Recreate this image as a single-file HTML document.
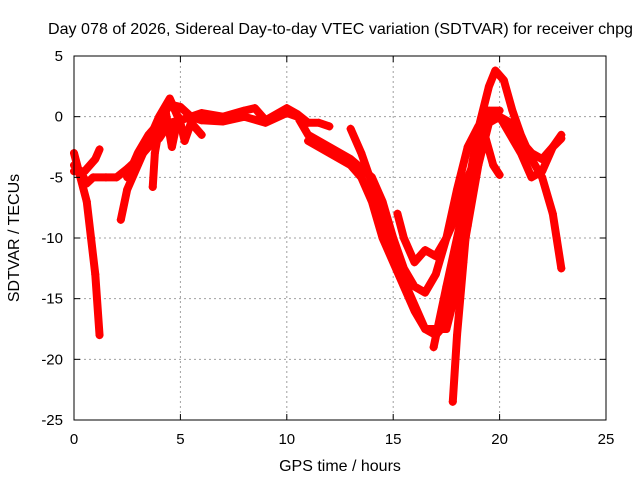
<!DOCTYPE html>
<html><head><meta charset="utf-8"><style>
body{margin:0;background:#fff}
svg{display:block;font-family:"Liberation Sans",sans-serif}
</style></head><body>
<svg id="c" width="640" height="480">
<rect width="640" height="480" fill="#fff"/>
<text x="48" y="34" font-size="16" textLength="585" lengthAdjust="spacingAndGlyphs">Day 078 of 2026, Sidereal Day-to-day VTEC variation (SDTVAR) for receiver chpg</text>
<text x="340" y="471" text-anchor="middle" font-size="16">GPS time / hours</text>
<text transform="translate(19,238) rotate(-90)" text-anchor="middle" font-size="16">SDTVAR / TECUs</text>
<g id="grid"></g><g id="marks"></g><g id="axes"></g>
</svg>
<script>
const xTicks=[0,5,10,15,20,25];
const yTicks=[5,0,-5,-10,-15,-20,-25];
const s1=[[0,-3],[0.3,-5],[0.6,-7],[0.8,-10],[1.0,-13],[1.2,-18]];
const s2=[[0,-4.5],[0.5,-4.5],[1.0,-3.5],[1.2,-2.7]];
const s3=[[0,-4],[0.3,-4.5],[0.6,-5.5],[0.9,-5],[1.5,-5],[2,-5],[2.5,-4.3],[3,-3.5],[3.5,-2.5],[4,-1.8],[4.5,-0.5],[5,-0.3],[5.5,0],[6,-0.3],[7,-0.4],[8,0],[9,-0.5],[10,0.3],[10.5,0],[11,-1.5],[12,-2.5],[13,-3.5],[14,-5],[14.5,-7],[15,-10],[15.5,-12.5],[16,-14],[16.5,-14.5],[17,-13],[17.5,-10],[18,-6],[18.5,-2.5],[19,-0.8],[19.5,0],[20,0],[20.5,-0.5],[21,-2],[21.5,-3],[22,-3.5],[22.5,-2.5],[22.9,-1.8]];
const s4=[[2.5,-5],[3,-3],[3.5,-1.5],[4,-0.5],[4.5,1],[5,0.8],[5.5,0],[6,0.3],[7,0],[8,0.5],[8.5,0.7],[9,-0.3],[10,0.7],[10.5,0.2],[11,-0.5],[11.5,-0.5],[12,-0.8]];
const s5=[[2.2,-8.5],[2.5,-6],[3,-4],[3.5,-2],[4,0],[4.5,1.5],[5,-0.5],[5.2,-2],[5.5,-0.5],[6,-1.5]];
const s6=[[3.7,-5.8],[3.8,-3],[4,-1],[4.3,0.5],[4.6,-2.5],[4.9,0]];
const s7=[[11,-2],[12,-3],[13,-4],[13.5,-5],[14,-7],[14.5,-10],[15,-12],[15.5,-14],[16,-16],[16.5,-17.5],[17,-18],[17.5,-17],[18,-12],[18.5,-6],[19,-1],[19.5,2.5],[19.8,3.8],[20.2,3],[20.6,0.5],[21,-1.5],[21.5,-3.5],[22,-5],[22.5,-8],[22.9,-12.5]];
const s8=[[13,-1],[13.5,-3],[14,-5.5],[14.5,-9],[15,-11.5],[15.5,-13.5],[16,-15.5],[16.5,-17.5],[17,-17.5],[17.5,-17.5],[18,-14],[18.5,-9],[19,-4],[19.5,-0.5],[20,0],[20.5,-1.5],[21,-3],[21.5,-5],[22,-4.5],[22.5,-2.5],[22.9,-1.5]];
const s9=[[15.2,-8],[15.5,-10],[16,-12],[16.5,-11],[17,-11.5],[17.5,-10],[18,-8],[18.5,-5],[19,-3],[19.3,-1.5],[19.7,-4],[20,-4.8]];
const s10=[[16.9,-19],[17.5,-14],[18,-10],[18.5,-6],[19,-2],[19.5,0.5],[20,0.5]];
const s11=[[17.8,-23.5],[18,-18],[18.3,-12],[18.5,-8]];
const series=[s1,s2,s3,s4,s5,s6,s7,s8,s9,s10,s11];
const X0=74,X1=606,Y0=56,Y1=420;
const xs=t=>X0+(t-0)/25*(X1-X0);
const ys=v=>Y0+(5-v)/30*(Y1-Y0);
const NS="http://www.w3.org/2000/svg";
function mk(tag,attrs,parent){const e=document.createElementNS(NS,tag);for(const k in attrs)e.setAttribute(k,attrs[k]);parent.appendChild(e);return e;}
const grid=document.getElementById('grid'),marks=document.getElementById('marks'),axes=document.getElementById('axes');
xTicks.forEach(t=>{
  if(t>0&&t<25){const g=mk('line',{x1:xs(t),x2:xs(t),y1:Y0,y2:Y1,stroke:'#a0a0a0','stroke-dasharray':'2,3'},grid);
  
  }
  const l=mk('text',{x:xs(t),y:444,'text-anchor':'middle','font-size':15},axes);l.textContent=t;
  
  
  mk('line',{x1:xs(t),x2:xs(t),y1:Y1,y2:Y1-6,stroke:'#000'},axes);
  mk('line',{x1:xs(t),x2:xs(t),y1:Y0,y2:Y0+6,stroke:'#000'},axes);
});
yTicks.forEach(v=>{
  if(v<5&&v>-25){const g=mk('line',{x1:X0,x2:X1,y1:ys(v),y2:ys(v),stroke:'#a0a0a0','stroke-dasharray':'2,3'},grid);
  
  }
  const l=mk('text',{x:63,y:ys(v)+5,'text-anchor':'end','font-size':15},axes);l.textContent=v;
  
  
  mk('line',{x1:X0,x2:X0+6,y1:ys(v),y2:ys(v),stroke:'#000'},axes);
  mk('line',{x1:X1,x2:X1-6,y1:ys(v),y2:ys(v),stroke:'#000'},axes);
});
const fr=mk('rect',{x:X0,y:Y0,width:X1-X0,height:Y1-Y0,fill:'none',stroke:'#000'},axes);


series.forEach((s,i)=>{
  const p=mk('polyline',{points:s.map(d=>xs(d[0])+','+ys(d[1])).join(' '),fill:'none',stroke:'#f00','stroke-width':8,'stroke-linejoin':'round','stroke-linecap':'round'},marks);
  
  
  s.forEach(d=>{
    const x=xs(d[0]),y=ys(d[1]);
    const m=mk('path',{d:`M${x-4},${y}h8M${x},${y-4}v8`,stroke:'#f00','stroke-width':1.5},marks);
    
    
  });
});
</script>
</body></html>
